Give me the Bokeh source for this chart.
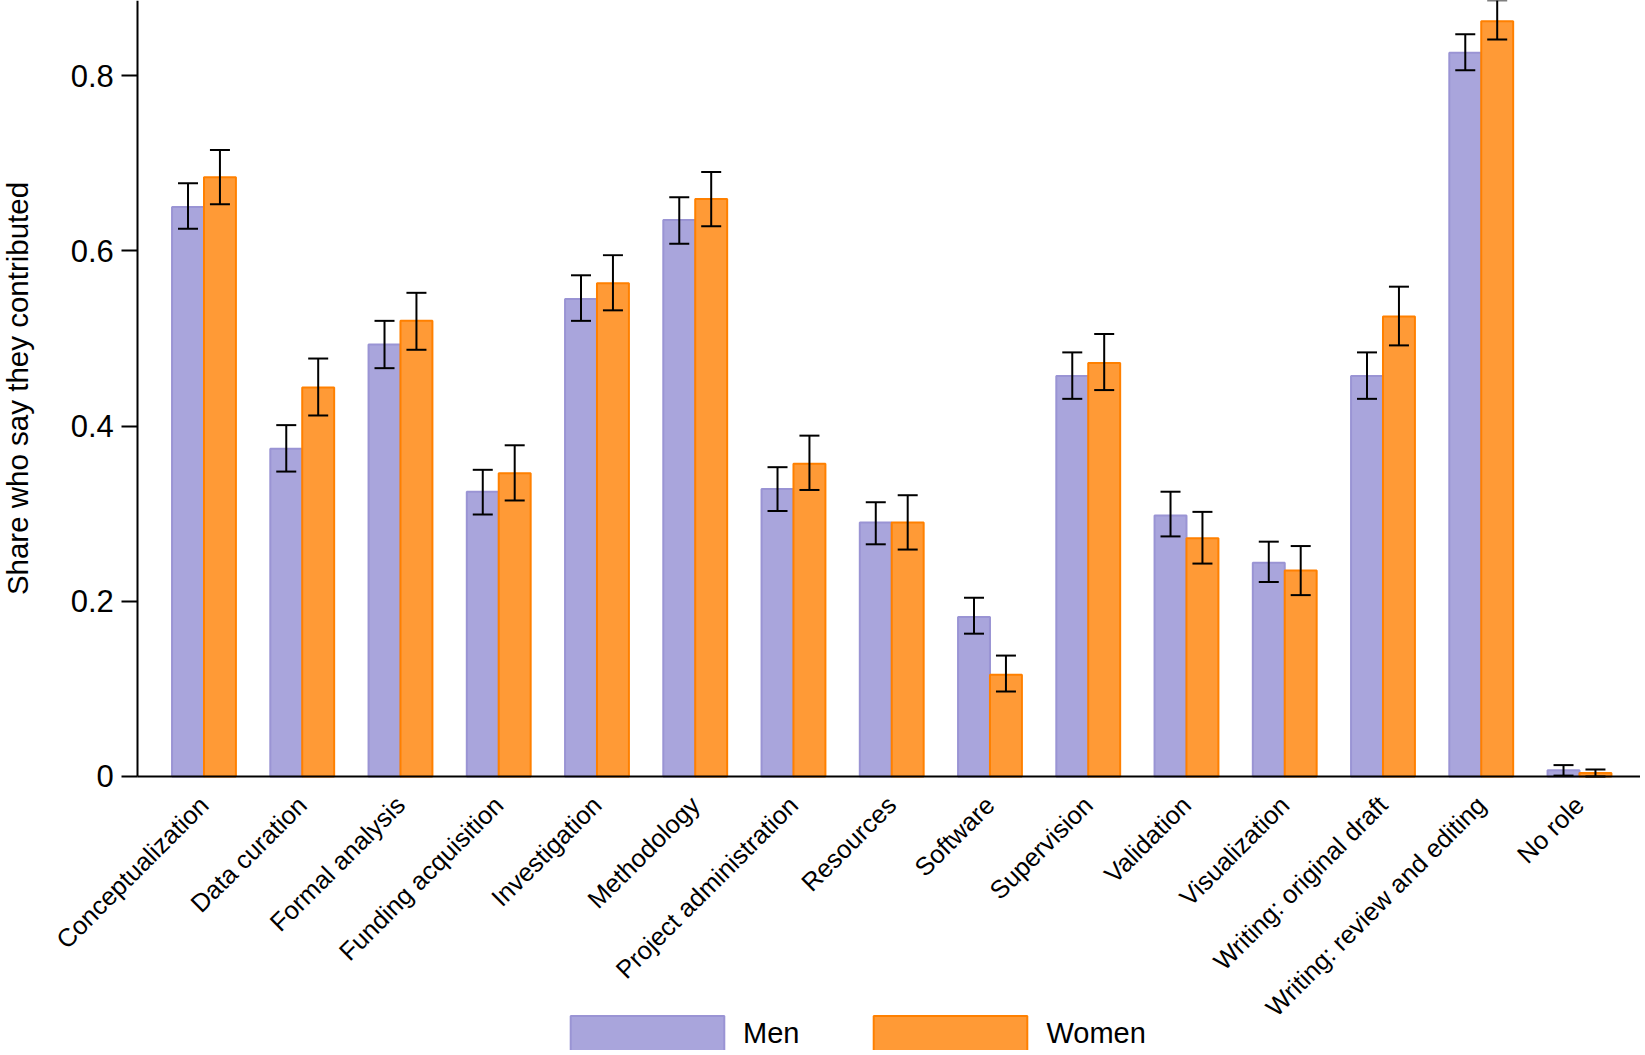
from math import pi
from bokeh.plotting import figure
from bokeh.models import (ColumnDataSource, Range1d, FixedTicker, Label,
                          Whisker, TeeHead, Legend, LegendItem)
from bokeh.transform import dodge
from bokeh.embed import file_html
from bokeh.resources import INLINE

# share of authors who say they contributed to each CRediT role
roles = ["Conceptualization", "Data curation", "Formal analysis", "Funding acquisition",
         "Investigation", "Methodology", "Project administration", "Resources",
         "Software", "Supervision", "Validation", "Visualization",
         "Writing: original draft", "Writing: review and editing", "No role"]
men = [0.650, 0.374, 0.493, 0.325, 0.545, 0.635, 0.328, 0.290, 0.182, 0.457, 0.298, 0.244, 0.457, 0.826, 0.007]
men_lo = [0.625, 0.348, 0.466, 0.299, 0.520, 0.608, 0.303, 0.265, 0.163, 0.431, 0.274, 0.222, 0.431, 0.806, 0.001]
men_hi = [0.677, 0.401, 0.520, 0.350, 0.572, 0.661, 0.353, 0.313, 0.204, 0.484, 0.325, 0.268, 0.484, 0.847, 0.013]
women = [0.684, 0.444, 0.520, 0.346, 0.563, 0.659, 0.357, 0.290, 0.116, 0.472, 0.272, 0.235, 0.525, 0.862, 0.004]
women_lo = [0.653, 0.412, 0.487, 0.315, 0.532, 0.628, 0.327, 0.259, 0.097, 0.441, 0.243, 0.207, 0.492, 0.841, 0.000]
women_hi = [0.715, 0.477, 0.552, 0.378, 0.595, 0.690, 0.389, 0.321, 0.138, 0.505, 0.302, 0.263, 0.559, 0.886, 0.008]
y_ticks = [0, 0.2, 0.4, 0.6, 0.8]
y_tick_labels = ["0", "0.2", "0.4", "0.6", "0.8"]

FONT = "Liberation Sans"
MEN_FILL, MEN_LINE = "#A9A5DC", "#9A94D4"
WOMEN_FILL, WOMEN_LINE = "#FF9A36", "#FF8000"
bw = 0.325
Y_TOP = 0.8856
Y_AXIS_AT = -0.673   # where the value axis crosses, in category-index units

pos = list(range(len(roles)))
src = ColumnDataSource(data=dict(pos=pos, role=roles, men=men, men_lo=men_lo, men_hi=men_hi,
                                 women=women, women_lo=women_lo, women_hi=women_hi))

# the frame fills the whole canvas; both axes are pinned inside it so that the
# rotated labels and the legend underneath are not clipped
p = figure(width=1640, height=1050, output_backend="svg", toolbar_location=None,
           x_range=Range1d(-2.071, 14.621), y_range=Range1d(-0.3127, Y_TOP),
           min_border_left=0, min_border_right=0, min_border_top=0, min_border_bottom=0)
p.outline_line_color = None
p.grid.visible = False

men_r = p.vbar(x=dodge("pos", -bw / 2), top="men", width=bw, source=src,
               fill_color=MEN_FILL, line_color=MEN_LINE, line_width=2)
women_r = p.vbar(x=dodge("pos", bw / 2), top="women", width=bw, source=src,
                 fill_color=WOMEN_FILL, line_color=WOMEN_LINE, line_width=2)

for off, lo, hi in [(-bw / 2, "men_lo", "men_hi"), (bw / 2, "women_lo", "women_hi")]:
    p.add_layout(Whisker(source=src, base=dodge("pos", off), lower=lo, upper=hi,
                         line_color="black", line_width=2, level="overlay",
                         upper_head=TeeHead(size=20, line_width=2, line_color="black"),
                         lower_head=TeeHead(size=20, line_width=2, line_color="black")))

# category axis
p.xaxis.fixed_location = 0
p.xaxis.bounds = (Y_AXIS_AT, 14.621)
p.xaxis.ticker = FixedTicker(ticks=pos)
p.xaxis.major_label_overrides = dict(zip(pos, roles))
p.xaxis.axis_line_width = 2
p.xaxis.axis_line_color = "black"
p.xaxis.major_tick_line_color = None
p.xaxis.minor_tick_line_color = None
p.xaxis.major_label_orientation = pi / 4
p.xaxis.major_label_standoff = 18
p.xaxis.major_label_text_font = FONT
p.xaxis.major_label_text_font_size = "25.5px"
p.xaxis.major_label_text_color = "black"

# value axis
p.yaxis.fixed_location = Y_AXIS_AT
p.yaxis.bounds = (0, Y_TOP)
p.yaxis.ticker = FixedTicker(ticks=y_ticks)
p.yaxis.major_label_overrides = dict(zip(y_ticks, y_tick_labels))
p.yaxis.axis_line_width = 2
p.yaxis.axis_line_color = "black"
p.yaxis.major_tick_line_width = 2
p.yaxis.major_tick_line_color = "black"
p.yaxis.major_tick_out = 16
p.yaxis.major_tick_in = 0
p.yaxis.minor_tick_line_color = None
p.yaxis.major_label_standoff = 8
p.yaxis.major_label_text_font = FONT
p.yaxis.major_label_text_font_size = "31px"
p.yaxis.major_label_text_color = "black"

# axis title, centred on the 0..top span of the value axis
p.add_layout(Label(x=0, y=1050 - 388, x_units="screen", y_units="screen",
                   text="Share who say they contributed", angle=pi / 2,
                   text_align="center", text_baseline="top",
                   text_font=FONT, text_font_size="29.5px", text_color="black"))

# legend swatches are drawn inset by 10%, so the glyph box is a bit larger than the patch
legend = Legend(items=[LegendItem(label="Men", renderers=[men_r]),
                       LegendItem(label="Women", renderers=[women_r])],
                orientation="horizontal", location=(551, -6),
                glyph_width=192, glyph_height=45, label_standoff=0, spacing=55,
                padding=0, margin=0, border_line_color=None, background_fill_alpha=0,
                label_text_font=FONT, label_text_font_size="29px", label_text_color="black")
p.add_layout(legend, "center")

open("out.html", "w").write(file_html(p, INLINE))
